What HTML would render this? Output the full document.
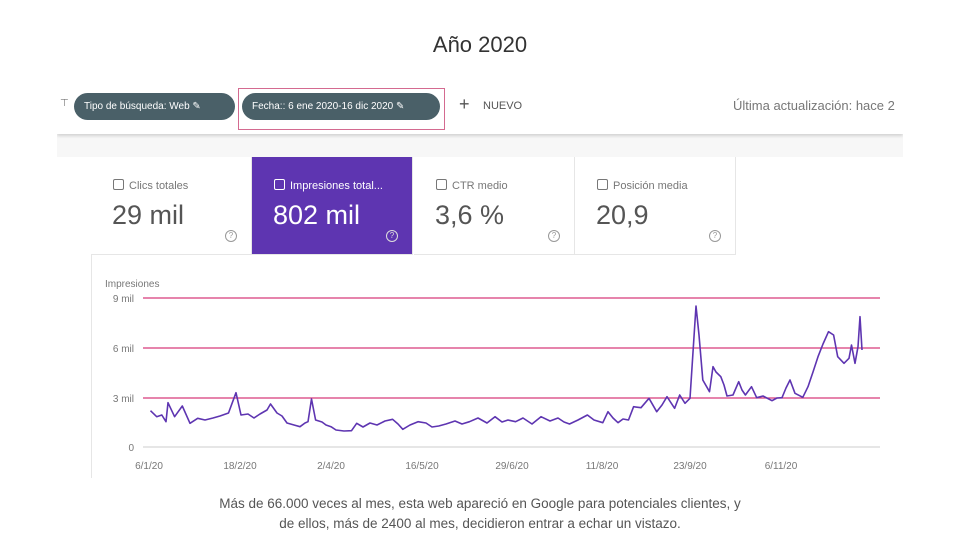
<!DOCTYPE html>
<html><head><meta charset="utf-8"><style>
body{margin:0;width:960px;height:540px;background:#fff;font-family:"Liberation Sans",sans-serif;position:relative;overflow:hidden}
.t{position:absolute;left:0;width:960px;text-align:center;top:32px;font-size:22px;color:#333}
.shot{position:absolute;left:57px;top:78px;width:846px;height:400px;background:#fff;overflow:hidden}
.bar{position:absolute;left:0;top:0;width:846px;height:56px;background:#fff;box-shadow:0 2px 3px rgba(0,0,0,.15)}
.chip{position:absolute;top:15px;height:27px;border-radius:14px;background:#4a6068;color:#fff;font-size:10px;line-height:27px;padding:0 10px;box-sizing:border-box}
.card{position:absolute;top:79px;height:98px;width:161px;background:#fff;border-right:1px solid #e6e6e6;border-bottom:1px solid #e6e6e6;box-sizing:border-box}
.card .l{position:absolute;left:22px;top:22px;font-size:11px;color:#777}
.card .l:before{content:"";display:inline-block;width:9px;height:9px;border:1px solid #777;border-radius:2px;margin-right:5px;vertical-align:-1px}
.card .v{position:absolute;left:21px;top:43px;font-size:27px;color:#555}
.card .q{position:absolute;left:134px;top:73px;width:10px;height:10px;border:1px solid #999;border-radius:50%;font-size:8px;color:#999;text-align:center;line-height:10px}
.sel{background:#5e35b1}.sel .l,.sel .v{color:#fff}.sel .l:before{border-color:#fff}.sel .q{border-color:#ddd;color:#ddd}
.cap{position:absolute;left:0;width:960px;text-align:center;font-size:13.5px;color:#555;line-height:20px;top:494px}
</style></head><body>
<div class="t">Año 2020</div>
<div class="shot">
<div style="position:absolute;left:0;top:56px;width:846px;height:23px;background:#f7f7f7"></div>
<div class="bar">
<div style="position:absolute;left:3px;top:20px;font-size:10px;color:#777">⊤</div>
<div class="chip" style="left:17px;width:161px">Tipo de búsqueda: Web ✎</div>
<div style="position:absolute;left:181px;top:10px;width:207px;height:42px;border:1px solid #d46a90;box-sizing:border-box"></div>
<div class="chip" style="left:185px;width:198px">Fecha:: 6 ene 2020-16 dic 2020 ✎</div>
<div style="position:absolute;left:402px;top:16px;font-size:18px;color:#555">+</div>
<div style="position:absolute;left:426px;top:22px;font-size:11px;color:#555">NUEVO</div>
<div style="position:absolute;left:676px;top:20px;font-size:13px;color:#777;white-space:nowrap">Última actualización: hace 2</div>
</div>
<div style="position:absolute;left:34px;top:79px;width:1px;height:330px;background:#e6e6e6"></div>
<div class="card" style="left:34px"><div class="l">Clics totales</div><div class="v">29 mil</div><div class="q">?</div></div>
<div class="card sel" style="left:195px"><div class="l">Impresiones total...</div><div class="v">802 mil</div><div class="q">?</div></div>
<div class="card" style="left:357px"><div class="l">CTR medio</div><div class="v">3,6 %</div><div class="q">?</div></div>
<div class="card" style="left:518px"><div class="l">Posición media</div><div class="v">20,9</div><div class="q">?</div></div>
</div>
<svg width="960" height="540" style="position:absolute;left:0;top:0" font-family="Liberation Sans" font-size="10" fill="#777">
<text x="105" y="287">Impresiones</text>
<text x="134" y="302" text-anchor="end">9 mil</text><text x="134" y="352" text-anchor="end">6 mil</text><text x="134" y="402" text-anchor="end">3 mil</text><text x="134" y="451" text-anchor="end">0</text>
<line x1="143" x2="880" y1="298" y2="298" stroke="#d63a7a" stroke-width="1.2"/>
<line x1="143" x2="880" y1="348" y2="348" stroke="#d63a7a" stroke-width="1.2"/>
<line x1="143" x2="880" y1="398" y2="398" stroke="#d63a7a" stroke-width="1.2"/>
<line x1="143" x2="880" y1="447" y2="447" stroke="#ccc"/>
<g text-anchor="middle"><text x="149" y="469">6/1/20</text><text x="240" y="469">18/2/20</text><text x="331" y="469">2/4/20</text><text x="422" y="469">16/5/20</text><text x="512" y="469">29/6/20</text><text x="602" y="469">11/8/20</text><text x="690" y="469">23/9/20</text><text x="781" y="469">6/11/20</text></g>
<polyline fill="none" stroke="#5e35b1" stroke-width="1.6" stroke-linejoin="round" points="150.5,410.7 156.7,416.7 161.8,415 166,421.7 168,402.7 174.6,416.7 182.3,406 190,423.3 197.7,418.3 205,420 213,418 220,416 228.5,413 236,392.7 241,415 248,414 254,418 260,414 267,410 270.5,404 277,413 282,416 287,423 294,425 300,426.7 305,423 308,421.7 311.5,399 315.6,420 322,422 326,425 331,426.7 336,430 344,431 351.5,430.7 356.7,423.3 363,427 370,423 377,425 385,421 392.6,419.3 398,424 402.8,429.3 410,425 418,421.7 426,423 432,427 438.7,426 446,424 455,421 462,424 469.5,421.7 478,418 487,423 495,416.7 502,422 508,420 515.6,421.7 523,418 532,424 541,416.7 550,421 558,418 564,422 569.5,424 578,420 587.4,415 594,420 602.8,422.7 608,411.7 613,418 618,422.7 623,419 628.5,420 633.6,406.7 641,407.7 649,398.3 656.7,411.7 662,405 667,396.7 674.6,408.3 679.7,395 685,403.3 690,398.3 696,306 699,335 702.8,380 709.5,391.7 713,366.7 716,372 720.8,376.7 724,385 727,396 733,395 738.7,381.7 742,390 745.4,395 751.5,386.7 756.7,397.7 763,396 772,400.7 777,398 782,397.7 786,388 790,380 795,393.3 802.8,397.3 808,386.7 813,372 818,356.7 823,344 828.5,331.7 833.6,335 837.7,356.7 844,363.3 849,358.3 851.5,345 855,363.3 858,346.7 860,316.7 862,350"/>
</svg>
<div class="cap">Más de 66.000 veces al mes, esta web apareció en Google para potenciales clientes, y<br>de ellos, más de 2400 al mes, decidieron entrar a echar un vistazo.</div>
</body></html>
